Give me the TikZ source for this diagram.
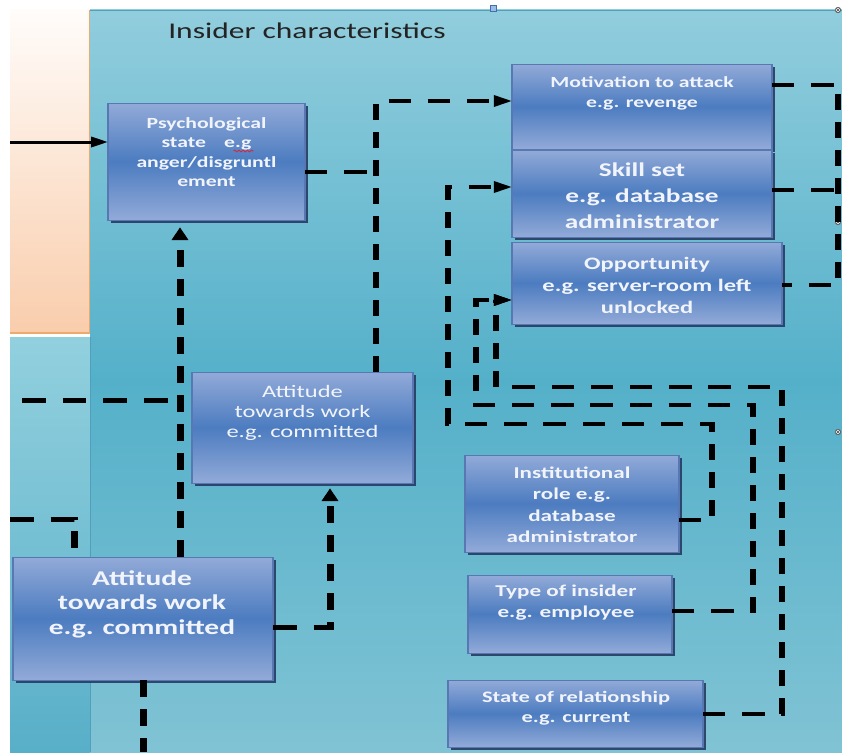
\documentclass[tikz,border=0pt]{standalone}
\usepackage{fontspec}
\setmainfont{Carlito}
\usetikzlibrary{arrows.meta,shadows,fit,calc,decorations.pathmorphing}

\definecolor{paneltop}{RGB}{145,205,221}
\definecolor{panelmid}{RGB}{84,176,201}
\definecolor{panelbot}{RGB}{128,195,212}
\definecolor{paneledge}{RGB}{80,160,188}
\definecolor{striptop}{RGB}{146,208,222}
\definecolor{stripbot}{RGB}{88,175,200}
\definecolor{peachtop}{RGB}{255,252,250}
\definecolor{peachbot}{RGB}{249,205,172}
\definecolor{peachedge}{RGB}{236,170,110}
\definecolor{boxlight}{RGB}{146,170,216}
\definecolor{boxdark}{RGB}{76,124,192}
\definecolor{boxedge}{RGB}{88,120,180}
\definecolor{boxshadow}{RGB}{38,58,98}
\definecolor{boxtext}{RGB}{242,244,252}
\definecolor{titletext}{RGB}{35,35,35}
\definecolor{handlefill}{RGB}{150,190,230}
\definecolor{handleedge}{RGB}{70,110,170}
\definecolor{spellred}{RGB}{210,40,60}

\newcommand\boxfont[2]{\fontsize{#1}{#2}\selectfont\bfseries}
\newcommand\plainfont[2]{\fontsize{#1}{#2}\selectfont}

\tikzset{
  panelbox/.style={draw=boxedge, line width=0.8pt, inner sep=0pt, outer sep=0pt,
    top color=boxlight, bottom color=boxlight, middle color=boxdark,
    drop shadow={shadow xshift=2pt, shadow yshift=-3pt, fill=boxshadow, opacity=0.9}},
  boxlabel/.style={text=boxtext, align=center, inner sep=0pt},
  connA/.style={draw=black, line width=5pt, dash pattern=on 17pt off 12pt},
  connB/.style={draw=black, line width=4pt, dash pattern=on 16pt off 12pt},
  connC/.style={draw=black, line width=3.6pt, dash pattern=on 16pt off 12pt},
  headend/.style={-{Triangle[length=13pt,width=11pt]}},
  feed/.style={draw=black, line width=3pt, -{Triangle[length=12pt,width=10pt]}},
  squiggle/.style={draw=spellred, line width=0.7pt, decorate,
    decoration={snake, amplitude=0.9pt, segment length=3pt}},
}

\begin{document}
\begin{tikzpicture}[x=1pt,y=-1pt]
\useasboundingbox (0,0) rectangle (842,752);
\fill[white] (0,0) rectangle (842,752);

% left column: peach panel above, light blue strip below
\shade[top color=peachtop, bottom color=peachbot] (10,10) rectangle (89,333);
\draw[peachedge, line width=1.5pt] (89.5,10) -- (89.5,333) -- (10,333);
\shade[top color=striptop, bottom color=stripbot] (10,337) rectangle (90,752);

% main panel
\shade[top color=paneltop, bottom color=panelbot, middle color=panelmid] (90,10) rectangle (842,752);
\draw[paneledge, line width=0.8pt] (90.5,752) -- (90.5,337);
\draw[paneledge, line width=0.6pt] (90,10.3) -- (842,10.3);

% selection handles
\filldraw[fill=handlefill, draw=handleedge, line width=0.5pt] (490,5) rectangle (496,11);
\foreach \yy in {10,222,432}{
  \filldraw[fill=white!85!gray, draw=gray!60!black, line width=0.5pt] (838,\yy) circle (2.8);
  \draw[gray!60!black, line width=0.4pt] (836,\yy-2) -- (840,\yy+2) (836,\yy+2) -- (840,\yy-2);
}

\begin{scope}[x=0.7142857pt, transform canvas={xscale=1.4}]
  % title
  \node[anchor=base west, text=titletext, inner sep=0pt, font=\plainfont{22.5}{26}] (title) at (168,39) {Insider characteristics};

  % boxes
  \node[panelbox, fit={(108,103) (305,220)}] (psych) {};
  \node[panelbox, fit={(512,64) (772,149)}] (mot) {};
  \node[panelbox, fit={(512,150) (772,237)}] (skill) {};
  \node[panelbox, fit={(512,242) (782,324)}] (opp) {};
  \node[panelbox, fit={(192,372) (413,483)}] (midatt) {};
  \node[panelbox, fit={(13,557) (273,680)}] (bigatt) {};
  \node[panelbox, fit={(465,455) (679,552)}] (inst) {};
  \node[panelbox, fit={(468,575) (672,653)}] (type) {};
  \node[panelbox, fit={(448,680) (703,747)}] (state) {};

  % box texts
  \node[boxlabel, font=\boxfont{15.5}{19.5}] (psychText) at (206.5,152)
    {Psychological\\ state\hspace{13pt}e.g\\ anger/disgruntl\\ ement};
  \node[boxlabel, font=\boxfont{15.5}{20}] (motText) at (642,93)
    {Motivation to attack\\ e.g. revenge};
  \node[boxlabel, font=\boxfont{19.5}{26}] (skillText) at (642,196)
    {Skill set\\ e.g. database\\ administrator};
  \node[boxlabel, font=\boxfont{17.5}{22}] (oppText) at (647,285)
    {Opportunity\\ e.g. server-room left\\ unlocked};
  \node[boxlabel, font=\plainfont{17.5}{20}] (midattText) at (302.5,413)
    {Attitude\\ towards work\\ e.g. committed};
  \node[boxlabel, font=\boxfont{21}{24.5}] (bigattText) at (142,604)
    {Attitude\\ towards work\\ e.g. committed};
  \node[boxlabel, font=\boxfont{16.5}{21.5}] (instText) at (572,505)
    {Institutional\\ role e.g.\\ database\\ administrator};
  \node[boxlabel, font=\boxfont{16.5}{21}] (typeText) at (566,603)
    {Type of insider\\ e.g. employee};
  \node[boxlabel, font=\boxfont{16}{19.5}] (stateText) at (576,708)
    {State of relationship\\ e.g. current};

  % spell-check mark under "e.g"
  \draw[squiggle] ($(psychText.center)+(27,-1)$) -- ++(20,0);

  % helper coordinates
  \coordinate (feedIn) at (10,142);
  \coordinate (leftA) at (22,400);
  \coordinate (leftB) at (10,519);
  \coordinate (outB) at (143,752);
  \coordinate (colA) at (180,0);
  \coordinate (colB) at (74,0);
  \coordinate (colC) at (330,0);
  \coordinate (colD) at (376,0);
  \coordinate (rTop) at (838,85);
  \coordinate (rBot) at (838,285);

  % solid feed into the psychological state
  \draw[feed] (feedIn) -- (feedIn -| psych.west);

  % left-hand dashed links
  \draw[connA, headend] (bigatt.north -| colA) -- ($(psych.south -| colA)+(0,7)$);
  \draw[connA] (leftA) -- (leftA -| colA);
  \draw[connA] (leftB) -| (bigatt.north -| colB);
  \draw[connA, headend] (bigatt.east |- 0,627) -| ($(midatt.south -| colC)+(0,5)$);
  \draw[connA] (bigatt.south) -- (outB);

  % psychological state and attitude feed the motivation
  \draw[connB] (psych.east |- 0,172) -- (0,172 -| colD);
  \draw[connB, headend] (midatt.north -| colD) |- (mot.west |- 0,101);

  % bracket joining the three upper boxes
  \draw[connC] (mot.east |- rTop) -- (rTop) -- (rBot) -- (opp.east |- rBot);
  \draw[connC] (skill.east |- 0,190) -- (rTop |- 0,190);

  % lower boxes feed skill set and opportunity
  \draw[connC, headend] (inst.east |- 0,520) -| (712,424) -| (448,187) -- (skill.west |- 0,187);
  \draw[connC, headend] (type.east |- 0,611) -| (753,405) -| (476,300) -- (opp.west |- 0,300);
  \draw[connC, headend] (state.east |- 0,714) -| (782,387) -| (496,300) -- (opp.west |- 0,300);
\end{scope}
\end{tikzpicture}
\end{document}
